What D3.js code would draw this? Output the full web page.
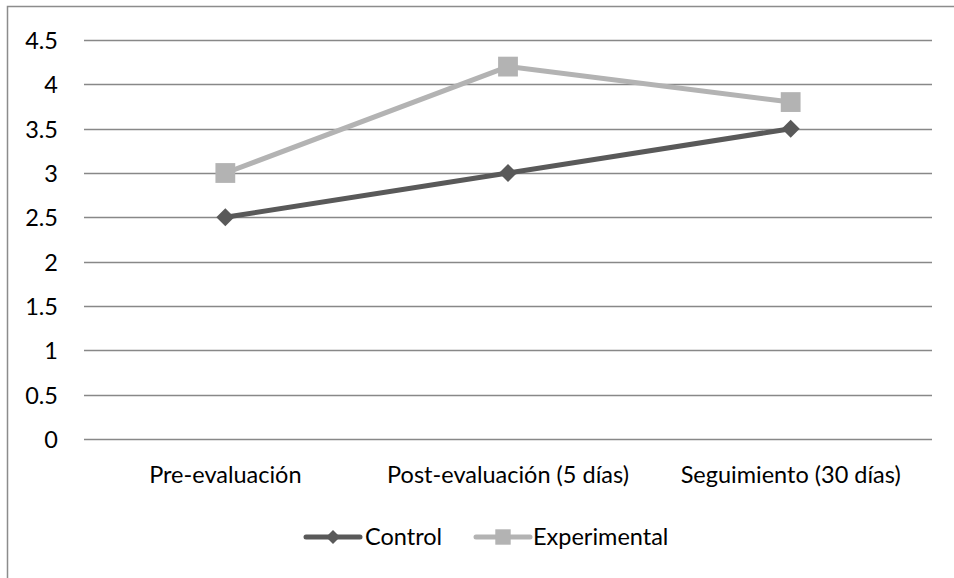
<!DOCTYPE html>
<html>
<head>
<meta charset="utf-8">
<script src="https://cdn.jsdelivr.net/npm/d3@7"></script>
<style>
  html, body { margin: 0; padding: 0; background: #fff; }
  svg { display: block; }
  text { font-family: Lato, "Open Sans", sans-serif; fill: #000; }
</style>
</head>
<body>
<svg id="chart" width="954" height="578"></svg>
<script>
// Measurement points and mean scores per group
const categories = ["Pre-evaluación", "Post-evaluación (5 días)", "Seguimiento (30 días)"];
const controlValues = [2.5, 3.0, 3.5];
const experimentalValues = [3.0, 4.2, 3.8];
const yTicks = [0, 0.5, 1, 1.5, 2, 2.5, 3, 3.5, 4, 4.5];
const seriesNames = ["Control", "Experimental"];

const series = [
  { name: seriesNames[0], values: controlValues, color: "#595959", marker: "diamond" },
  { name: seriesNames[1], values: experimentalValues, color: "#b3b3b3", marker: "square" }
];

const svg = d3.select("#chart");
const plot = { left: 84, right: 932, top: 40, bottom: 439 };
const fontSize = "23.5px";

// Outer chart frame
svg.append("rect")
  .attr("x", 7.5).attr("y", 6.5)
  .attr("width", 1000).attr("height", 1000)
  .attr("fill", "none").attr("stroke", "#8c8c8c").attr("stroke-width", 1.5);

const x = d3.scaleBand().domain(categories).range([plot.left, plot.right]);
const y = d3.scaleLinear().domain([0, 4.5]).range([plot.bottom, plot.top]);

// Horizontal gridlines
svg.append("g").selectAll("line").data(yTicks).join("line")
  .attr("x1", plot.left).attr("x2", plot.right)
  .attr("y1", d => Math.round(y(d)) + 0.5).attr("y2", d => Math.round(y(d)) + 0.5)
  .attr("stroke", "#888").attr("stroke-width", 1.5);

// Y axis labels
const yAxis = d3.axisLeft(y).tickValues(yTicks).tickSize(0).tickPadding(0).tickFormat(d3.format("~g"));
const yg = svg.append("g").attr("transform", `translate(58,0)`).call(yAxis);
yg.select(".domain").remove();
yg.selectAll("text").style("font-size", fontSize).style("font-family", "Lato, sans-serif").attr("dy", "0.36em");

// X axis labels
const xAxis = d3.axisBottom(x).tickSize(0).tickPadding(0);
const xg = svg.append("g").attr("transform", `translate(0,466)`).call(xAxis);
xg.select(".domain").remove();
xg.selectAll("text").style("font-size", fontSize).style("font-family", "Lato, sans-serif").attr("dy", "0.71em");

const cx = c => x(c) + x.bandwidth() / 2;
const line = d3.line().x((d, i) => cx(categories[i])).y(d => y(d));

function drawMarker(g, type, color, r) {
  if (type === "diamond") {
    g.append("path").attr("d", `M0,${-r}L${r},0L0,${r}L${-r},0Z`).attr("fill", color);
  } else {
    const h = r * 1.1;
    g.append("rect").attr("x", -h).attr("y", -h).attr("width", 2 * h).attr("height", 2 * h).attr("fill", color);
  }
}

series.forEach(s => {
  svg.append("path").datum(s.values)
    .attr("d", line).attr("fill", "none")
    .attr("stroke", s.color).attr("stroke-width", 5).attr("stroke-linejoin", "round");
  s.values.forEach((v, i) => {
    const g = svg.append("g").attr("transform", `translate(${cx(categories[i])},${y(v)})`);
    drawMarker(g, s.marker, s.color, 9);
  });
});

// Legend
const legendY = 537;
const legendItems = [
  { s: series[0], x0: 306, tx: 365 },
  { s: series[1], x0: 476, tx: 533 }
];
legendItems.forEach(({ s, x0, tx }) => {
  svg.append("line").attr("x1", x0).attr("x2", x0 + 54)
    .attr("y1", legendY).attr("y2", legendY)
    .attr("stroke", s.color).attr("stroke-width", 5).attr("stroke-linecap", "round");
  const g = svg.append("g").attr("transform", `translate(${x0 + 27},${legendY})`);
  drawMarker(g, s.marker, s.color, 7);
  svg.append("text").attr("x", tx).attr("y", legendY).attr("dy", "0.36em")
    .style("font-size", fontSize).text(s.name);
});
</script>
</body>
</html>
